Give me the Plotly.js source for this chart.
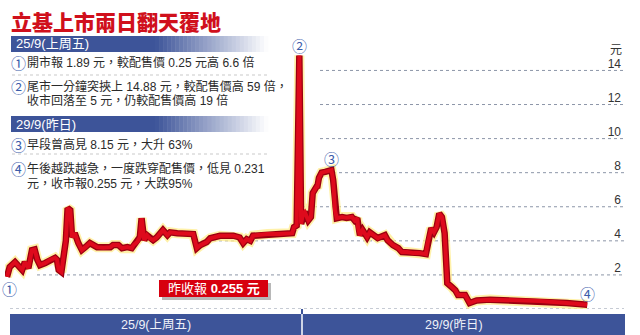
<!DOCTYPE html>
<html><head><meta charset="utf-8">
<script src="https://cdn.plot.ly/plotly-3.0.1.min.js"></script>
<style>html,body{margin:0;padding:0;background:#fff}#chart{width:640px;height:335px}</style>
</head><body><div id="chart"></div>
<script>
// ---- data (trading minutes from 25/9 open; day 2 starts at 330) ----
const day1Minutes = [0,3,9,12,17,20,24,28,31,34,37,43,48,54,56,58,61,63,66,68,71,73,76,80,84,88,93,101,108,116,119,125,129,135,140,142,146,149,151,154,157,160,164,168,172,175,180,183,191,202,209,213,217,224,228,239,254,261,265,269,273,276,292,306,320,322,325,328,330];
const day1Prices  = [1.89,2.46,2.75,2.58,2.29,2.75,2.4,3.46,3.5,2.9,2.58,2.7,2.87,3.0,2.9,2.29,2.17,2.9,4.0,5.92,5.8,4.22,4.45,3.87,3.46,3.63,3.87,3.63,3.6,3.63,3.75,3.75,3.57,3.63,3.57,3.75,3.93,4.22,5.33,4.04,4.33,4.16,4.04,4.2,4.5,4.63,4.33,4.5,4.45,4.45,4.4,3.57,3.75,3.93,4.15,4.3,4.3,4.2,3.87,4.1,4.0,4.3,4.4,4.4,4.45,4.8,4.9,14.88,5.0];
const day2Minutes = [332,334,338,341,343,347,348,350,353,357,360,364,366,368,370,376,381,387,390,393,394,396,399,404,407,411,416,424,427,433,439,443,449,456,463,470,472,476,479,482,485,488,491,494,499,503,506,511,514,519,527,542,598,628,651];
const day2Prices  = [5.6,5.7,5.2,5.4,6.8,7.15,7.1,7.7,8.0,8.05,8.1,8.15,7.56,5.8,5.33,5.4,5.35,5.4,5.2,5.33,4.74,4.33,4.63,4.22,4.5,4.35,4.16,4.33,4.04,3.75,3.57,3.34,3.34,3.28,3.28,3.22,3.87,4.74,4.5,4.8,5.6,5.4,4.45,1.52,1.29,1.1,0.82,0.82,0.82,0.35,0.5,0.55,0.47,0.35,0.255];
const yTicks = [0,2,4,6,8,10,12,14];
const dayLabels = ['25/9(上周五)','29/9(昨日)'];
const titleText = '立基上市兩日翻天覆地';
const notes = [
  {mark:'①', lines:['開市報 1.89 元，較配售價 0.25 元高 6.6 倍']},
  {mark:'②', lines:['尾市一分鐘突挾上 14.88 元，較配售價高 59 倍，','收市回落至 5 元，仍較配售價高 19 倍']},
  {mark:'③', lines:['早段曾高見 8.15 元，大升 63%']},
  {mark:'④', lines:['午後越跌越急，一度跌穿配售價，低見 0.231','元，收市報0.255 元，大跌95%']}
];
const closeLabel = '昨收報 <b>0.255 元</b>';
const unitLabel = '元';

// ---- layout helpers (pixel -> paper) ----
const L=5, R=625, T=54, B=309;
const PX = x => (x-L)/(R-L);
const PY = y => (B-y)/(B-T);
const FONT = 'Arial, "Liberation Sans", "Noto Sans CJK TC", sans-serif';
const BLUE = '#3d5499';
const CIRC = '#3b5cab';

const xs = day1Minutes.concat(day2Minutes);
const ys = day1Prices.concat(day2Prices);

const traces = [
  {x:xs, y:ys, mode:'lines', line:{color:'rgba(255,236,140,0.75)', width:10}, hoverinfo:'skip', cliponaxis:false},
  {x:xs, y:ys, mode:'lines', line:{color:'#9a0010', width:6.5}, hoverinfo:'skip', cliponaxis:false},
  {x:xs, y:ys, mode:'lines', line:{color:'#de0a1c', width:4}, hoverinfo:'skip', cliponaxis:false}
];

const shapes = [];
const annotations = [];
function txt(px, py, text, font, xanchor){
  annotations.push({xref:'paper', yref:'paper', x:PX(px), y:PY(py), xanchor:xanchor||'center', yanchor:'middle',
    text:text, showarrow:false, borderpad:0, font:font});
}

// grid lines (dotted, partial like original)
const gridStart = {0:10, 2:37, 4:195, 6:302, 8:333, 10:320, 12:320, 14:320};
yTicks.forEach(v => {
  shapes.push({type:'line', layer:'below', xref:'paper', yref:'y', x0:PX(gridStart[v]), x1:PX(624), y0:v, y1:v,
    line:{color:'#8d96a8', width:1, dash:'dot'}});
});

// bottom day band
shapes.push({type:'rect', xref:'paper', yref:'paper', x0:PX(10), x1:PX(625), y0:PY(314), y1:PY(335), fillcolor:BLUE, line:{width:0}});
shapes.push({type:'line', xref:'paper', yref:'paper', x0:PX(302), x1:PX(302), y0:PY(314), y1:PY(335), line:{color:'#ffffff', width:1.5}});
shapes.push({type:'line', xref:'paper', yref:'paper', x0:PX(302), x1:PX(302), y0:PY(309), y1:PY(314), line:{color:BLUE, width:2}});
txt(156, 325, dayLabels[0], {family:FONT, size:12.5, color:'#eef1f8'});
txt(454, 325, dayLabels[1], {family:FONT, size:12.5, color:'#eef1f8'});

// gradient header bands
function gradBand(y0, y1, label){
  shapes.push({type:'rect', xref:'paper', yref:'paper', x0:PX(11), x1:PX(156), y0:PY(y0), y1:PY(y1), fillcolor:BLUE, line:{width:0}});
  const s=155, e=268, n=28, c0=[61,84,153];
  for(let i=0;i<n;i++){
    const t=(i+0.5)/n;
    const c=c0.map(v=>Math.round(v+(255-v)*t));
    shapes.push({type:'rect', xref:'paper', yref:'paper', x0:PX(s+(e-s)*i/n), x1:PX(s+(e-s)*(i+1)/n+0.5), y0:PY(y0), y1:PY(y1),
      fillcolor:`rgb(${c[0]},${c[1]},${c[2]})`, line:{width:0}});
  }
  txt(15, (y0+y1)/2, label, {family:FONT, size:13, color:'#ffffff'}, 'left');
}
gradBand(36, 52, dayLabels[0]);
gradBand(116, 132, dayLabels[1]);

// note separators
[75, 154].forEach(y => shapes.push({type:'line', xref:'paper', yref:'paper', x0:PX(12), x1:PX(268), y0:PY(y), y1:PY(y), line:{color:'#c9c9c9', width:1, dash:'dot'}}));

// notes text
const noteY = [[62.5],[86,100.5],[144],[168,183]];
notes.forEach((n,i) => {
  txt(18.5, noteY[i][0], n.mark, {family:'"Noto Sans CJK TC", sans-serif', size:15, color:CIRC});
  n.lines.forEach((ln,j) => txt(26, noteY[i][j], ln, {family:FONT, size:12, color:'#2a2a2a'}, 'left'));
});

// title
txt(10, 21, titleText, {family:'"Noto Sans CJK TC", sans-serif', size:21, color:'#d0101c', weight:900}, 'left');

// chart circle markers
const marks = [
  {t:'①', x:day1Minutes[0]+3, y:day1Prices[0], dy:12},
  {t:'②', x:day1Minutes[day1Minutes.length-2], y:day1Prices[day1Prices.length-2], dy:-10},
  {t:'③', x:day2Minutes[11], y:day2Prices[11], dy:-12},
  {t:'④', x:day2Minutes[day2Minutes.length-1], y:day2Prices[day2Prices.length-1], dy:-11}
];
marks.forEach(m => annotations.push({x:m.x, y:m.y, xref:'x', yref:'y', xanchor:'center', yanchor:'middle', text:m.t, showarrow:false, yshift:-m.dy,
  font:{family:'"Noto Sans CJK TC", sans-serif', size:15, color:CIRC}}));

// close label box
shapes.push({type:'rect', xref:'paper', yref:'paper', x0:PX(162), x1:PX(271), y0:PY(283), y1:PY(300), fillcolor:'rgba(0,0,0,0.28)', line:{width:0}});
shapes.push({type:'rect', xref:'paper', yref:'paper', x0:PX(159), x1:PX(268), y0:PY(280), y1:PY(297), fillcolor:'#d7000f', line:{width:0}});
txt(213.5, 288.5, closeLabel, {family:FONT, size:13, color:'#ffffff'});

// unit label
txt(623, 49.5, unitLabel, {family:FONT, size:12, color:'#333'}, 'right');

const layout = {
  width:640, height:335,
  margin:{l:L, r:640-R, t:T, b:335-B, pad:0},
  paper_bgcolor:'#ffffff', plot_bgcolor:'rgba(0,0,0,0)',
  showlegend:false,
  xaxis:{range:[(L-7)*1.122, (R-7)*1.122], showgrid:false, zeroline:false, showticklabels:false, ticks:'', showline:false, fixedrange:true},
  yaxis:{range:[0,(B-T)/17.04], side:'right', showgrid:false, zeroline:false, showline:false, ticks:'',
    tickvals:yTicks, ticktext:yTicks.map(String), ticklabelposition:'inside', ticklabelshift:-7, ticklabelstandoff:1,
    tickfont:{family:FONT, size:12, color:'#333'}, fixedrange:true},
  shapes:shapes, annotations:annotations
};
Plotly.newPlot('chart', traces, layout, {staticPlot:true, displayModeBar:false});
</script></body></html>
